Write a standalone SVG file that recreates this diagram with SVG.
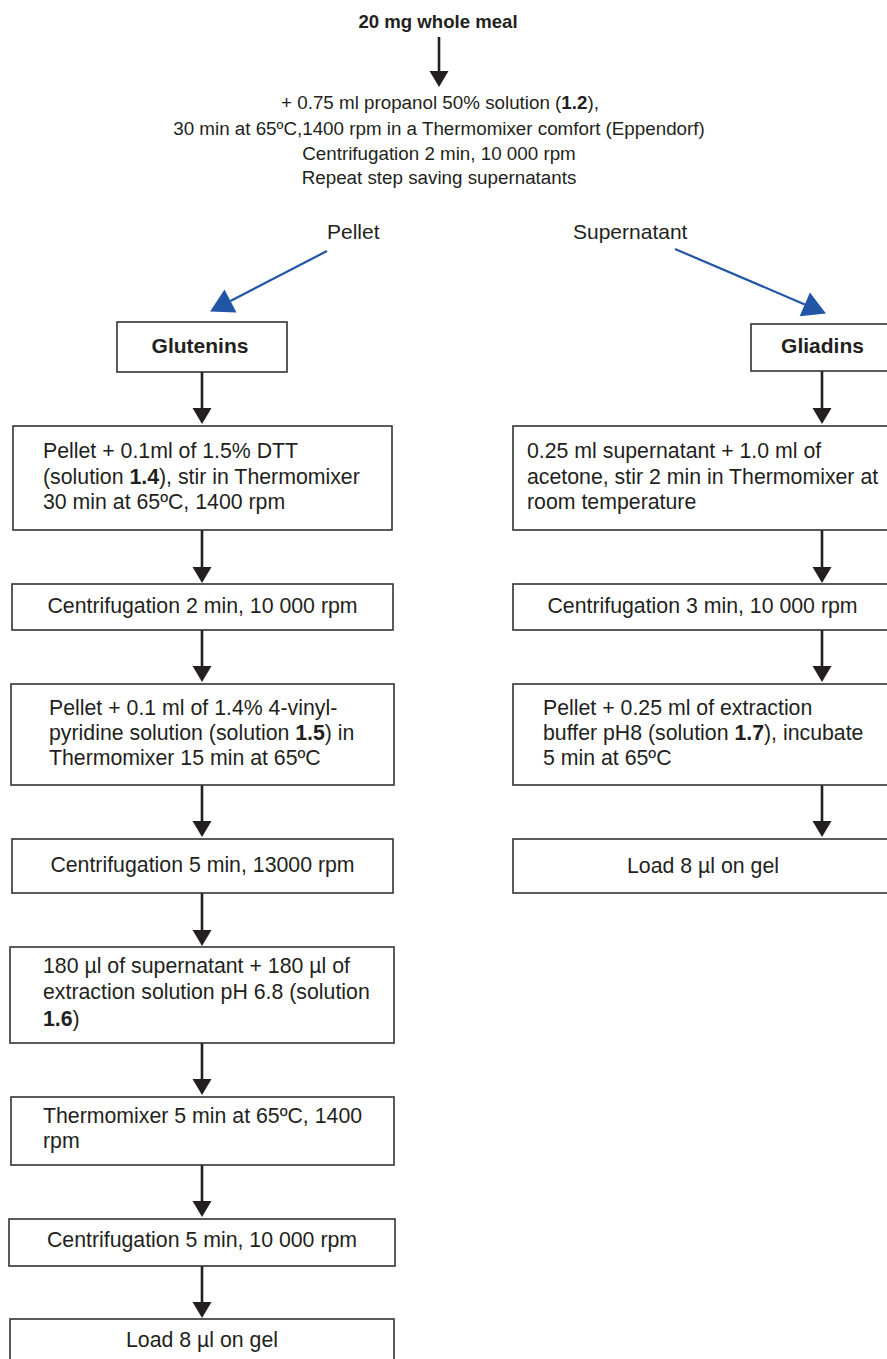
<svg xmlns="http://www.w3.org/2000/svg" width="887" height="1359" viewBox="0 0 887 1359">
<defs>
<style>
text{font-family:"Liberation Sans",Arial,Helvetica,sans-serif;fill:#231f20}
.hd{font-size:18.8px}
.tt{font-size:18.6px;font-weight:bold}
.bx{font-size:21.3px}
.lb{font-size:21px}
.bt{font-size:21px;font-weight:bold}
.b{font-weight:bold}
.m{text-anchor:middle}
rect{fill:#fff;stroke:#333;stroke-width:1.6}
.ar{stroke:#231f20;stroke-width:2.6;fill:none;marker-end:url(#ah)}
.bl{stroke:#2155a5;stroke-width:2.2;fill:none;marker-end:url(#bh)}
</style>
<marker id="ah" markerUnits="userSpaceOnUse" markerWidth="17" markerHeight="20" refX="0" refY="9.5" orient="auto" overflow="visible">
<path d="M0,0 L16,9.5 L0,19 z" fill="#231f20"/>
</marker>
<marker id="bh" markerUnits="userSpaceOnUse" markerWidth="23" markerHeight="27" refX="0" refY="13" orient="auto" overflow="visible">
<path d="M0,0 L23,13 L0,26 z" fill="#2155a5"/>
</marker>
</defs>
<rect x="0" y="0" width="887" height="1359" style="fill:#fff;stroke:none"/>

<g id="connectors">
<line class="ar" x1="439" y1="37" x2="439" y2="71"/>
<line class="bl" x1="327" y1="251" x2="230.5" y2="301"/>
<line class="bl" x1="675" y1="249" x2="804.8" y2="304.4"/>
<line class="ar" x1="202" y1="372" x2="202" y2="408"/>
<line class="ar" x1="202" y1="530" x2="202" y2="567"/>
<line class="ar" x1="202" y1="630" x2="202" y2="666"/>
<line class="ar" x1="202" y1="785" x2="202" y2="821"/>
<line class="ar" x1="202" y1="893" x2="202" y2="930"/>
<line class="ar" x1="202" y1="1043" x2="202" y2="1079"/>
<line class="ar" x1="202" y1="1165" x2="202" y2="1201"/>
<line class="ar" x1="202" y1="1266" x2="202" y2="1302"/>
<line class="ar" x1="822" y1="371" x2="822" y2="408"/>
<line class="ar" x1="822" y1="530" x2="822" y2="567"/>
<line class="ar" x1="822" y1="630" x2="822" y2="666"/>
<line class="ar" x1="822" y1="785" x2="822" y2="821"/>
</g>

<g id="start">
<text class="tt m" x="438" y="28">20 mg whole meal</text>
</g>
<g id="extraction">
<text class="hd m" x="440" y="109">+ 0.75 ml propanol 50% solution (<tspan class="b">1.2</tspan>),</text>
<text class="hd m" x="439" y="134.5">30 min at 65ºC,1400 rpm in a Thermomixer comfort (Eppendorf)</text>
<text class="hd m" x="439" y="160">Centrifugation 2 min, 10 000 rpm</text>
<text class="hd m" x="439" y="184">Repeat step saving supernatants</text>
</g>
<g id="label-pellet">
<text class="lb" x="327" y="239">Pellet</text>
</g>
<g id="label-supernatant">
<text class="lb" x="573" y="239">Supernatant</text>
</g>

<g id="glutenins">
<rect x="117" y="322" width="170" height="50"/>
<text class="bt m" x="200" y="353">Glutenins</text>
</g>
<g id="g1">
<rect x="13" y="426" width="379" height="104"/>
<text class="bx" x="43" y="458">Pellet + 0.1ml of 1.5% DTT</text>
<text class="bx" x="43" y="483.5">(solution <tspan class="b">1.4</tspan>), stir in Thermomixer</text>
<text class="bx" x="43" y="509">30 min at 65ºC, 1400 rpm</text>
</g>
<g id="g2">
<rect x="12" y="584" width="381" height="46"/>
<text class="bx m" x="202.5" y="613">Centrifugation 2 min, 10 000 rpm</text>
</g>
<g id="g3">
<rect x="11" y="684" width="383" height="101"/>
<text class="bx" x="49" y="715">Pellet + 0.1 ml of 1.4% 4-vinyl-</text>
<text class="bx" x="49" y="740">pyridine solution (solution <tspan class="b">1.5</tspan>) in</text>
<text class="bx" x="49" y="765">Thermomixer 15 min at 65ºC</text>
</g>
<g id="g4">
<rect x="12" y="839" width="381" height="54"/>
<text class="bx m" x="202.5" y="872">Centrifugation 5 min, 13000 rpm</text>
</g>
<g id="g5">
<rect x="10" y="947" width="384" height="96"/>
<text class="bx" x="43" y="973.3">180 µl of supernatant + 180 µl of</text>
<text class="bx" x="43" y="999">extraction solution pH 6.8 (solution</text>
<text class="bx" x="43" y="1025.7"><tspan class="b">1.6</tspan>)</text>
</g>
<g id="g6">
<rect x="11" y="1097" width="383" height="68"/>
<text class="bx" x="43" y="1123.3">Thermomixer 5 min at 65ºC, 1400</text>
<text class="bx" x="43" y="1148.3">rpm</text>
</g>
<g id="g7">
<rect x="9" y="1219" width="386" height="47"/>
<text class="bx m" x="202" y="1247">Centrifugation 5 min, 10 000 rpm</text>
</g>
<g id="g8">
<rect x="10" y="1319" width="384" height="60"/>
<text class="bx m" x="202" y="1347">Load 8 µl on gel</text>
</g>

<g id="gliadins">
<rect x="751" y="324" width="150" height="47"/>
<text class="bt m" x="822.5" y="353">Gliadins</text>
</g>
<g id="r1">
<rect x="513" y="426" width="390" height="104"/>
<text class="bx" x="527" y="458">0.25 ml supernatant + 1.0 ml of</text>
<text class="bx" x="527" y="483.5">acetone, stir 2 min in Thermomixer at</text>
<text class="bx" x="527" y="509">room temperature</text>
</g>
<g id="r2">
<rect x="513" y="584" width="390" height="46"/>
<text class="bx m" x="702.5" y="613">Centrifugation 3 min, 10 000 rpm</text>
</g>
<g id="r3">
<rect x="513" y="684" width="390" height="101"/>
<text class="bx" x="543" y="715">Pellet + 0.25 ml of extraction</text>
<text class="bx" x="543" y="740">buffer pH8 (solution <tspan class="b">1.7</tspan>), incubate</text>
<text class="bx" x="543" y="765">5 min at 65ºC</text>
</g>
<g id="r4">
<rect x="513" y="839" width="390" height="54"/>
<text class="bx m" x="703" y="873">Load 8 µl on gel</text>
</g>
</svg>
